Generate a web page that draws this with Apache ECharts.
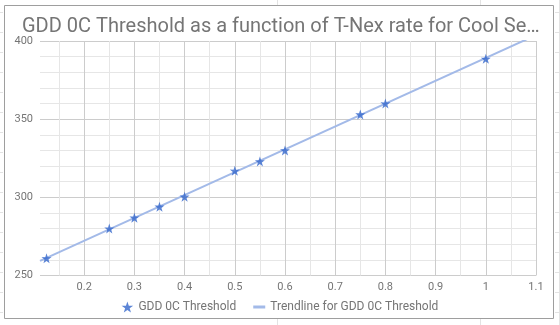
<!DOCTYPE html>
<html>
<head>
<meta charset="utf-8">
<script src="https://cdn.jsdelivr.net/npm/echarts@6/dist/echarts.min.js"></script>
<style>
html,body{margin:0;padding:0;background:#fff;}
#chart{width:560px;height:325px;}
</style>
</head>
<body>
<div id="chart"></div>
<script>
// Data
const rateX = [0.125, 0.25, 0.3, 0.35, 0.4, 0.5, 0.55, 0.6, 0.75, 0.8, 1.0];
const gddY  = [261, 280, 287, 294, 300.4, 317, 323, 330, 353, 360, 388.6];
// Trendline endpoints (clipped by plot area at the top)
const trendX = [0.112, 1.1];
const trendY = [259.3, 403.8];
const titleText = 'GDD 0C Threshold as a function of T-Nex rate for Cool Se\u2026';
const seriesName = 'GDD 0C Threshold';
const trendName = 'Trendline for GDD 0C Threshold';

const STAR = 'path://M50,0 L61.8,35.1 L97.6,34.5 L68.8,56 L79.4,90.5 L50,70 L20.6,90.5 L31.2,56 L2.4,34.5 L38.2,35.1 Z';
const BAR = 'path://M0,0L0,0M0,11L0,11M0,4L12,4L12,7L0,7Z';
const textColor = '#757575';
const font = 'Roboto';

// decorative spreadsheet cell lines outside the chart box
const deco = [];
const cellLine = {stroke:'#e3e3e3', lineWidth:1};
for (let y = 12.5; y < 325; y += 20) {
  deco.push({type:'line', silent:true, shape:{x1:0, y1:y, x2:3, y2:y}, style:cellLine});
  deco.push({type:'line', silent:true, shape:{x1:555, y1:y, x2:560, y2:y}, style:cellLine});
}
[277.5, 480.5].forEach(x => {
  deco.push({type:'line', silent:true, shape:{x1:x, y1:0, x2:x, y2:5}, style:cellLine});
  deco.push({type:'line', silent:true, shape:{x1:x, y1:319, x2:x, y2:325}, style:cellLine});
});
deco.push({type:'line', silent:true, shape:{x1:559.5, y1:0, x2:559.5, y2:325}, style:cellLine});
deco.push({type:'rect', silent:true, z:-1, shape:{x:4.5, y:5.5, width:549, height:313},
  style:{fill:'#fff', stroke:'#9e9e9e', lineWidth:1}});

const chart = echarts.init(document.getElementById('chart'), null, {renderer:'canvas'});
chart.setOption({
  animation:false,
  backgroundColor:'#fff',
  graphic: deco,
  title:{
    text: titleText,
    left: 17, top: 12,
    textStyle:{fontFamily:font, fontSize:20, fontWeight:'normal', color:textColor}
  },
  grid:{left:40, right:24, top:41, bottom:49.5, containLabel:false},
  legend:{
    left:'center', top:296,
    itemWidth:12, itemHeight:11, itemGap:17,
    textStyle:{fontFamily:font, fontSize:12, color:textColor},
    data:[
      {name:seriesName, icon:STAR},
      {name:trendName, icon:BAR}
    ]
  },
  xAxis:{
    type:'value', min:trendX[0], max:trendX[1],
    minInterval:0.1, maxInterval:0.1,
    axisLine:{show:false}, axisTick:{show:false},
    axisLabel:{showMinLabel:false, color:textColor, fontFamily:font, fontSize:11, margin:6},
    splitLine:{show:true, showMinLine:false, lineStyle:{color:'#cccccc', width:1}},
    minorTick:{show:false, splitNumber:2},
    minorSplitLine:{show:true, lineStyle:{color:'#e6e6e6', width:1}}
  },
  yAxis:{
    type:'value', min:250, max:400, interval:50,
    axisLine:{show:false}, axisTick:{show:false},
    axisLabel:{color:textColor, fontFamily:font, fontSize:11, margin:7},
    splitLine:{show:true, lineStyle:{color:'#cccccc', width:1}},
    minorTick:{show:false, splitNumber:5},
    minorSplitLine:{show:true, lineStyle:{color:'#e6e6e6', width:1}}
  },
  series:[
    {
      name: trendName, type:'line',
      data: trendX.map((x,i)=>[x, trendY[i]]),
      symbol:'none', clip:true,
      lineStyle:{color:'#a3bae8', width:2},
      itemStyle:{color:'#a3bae8'},
      z:2
    },
    {
      name: seriesName, type:'scatter',
      data: rateX.map((x,i)=>[x, gddY[i]]),
      symbol: STAR, symbolSize:10,
      itemStyle:{color:'#3366cc'},
      z:3
    }
  ]
});
</script>
</body>
</html>
